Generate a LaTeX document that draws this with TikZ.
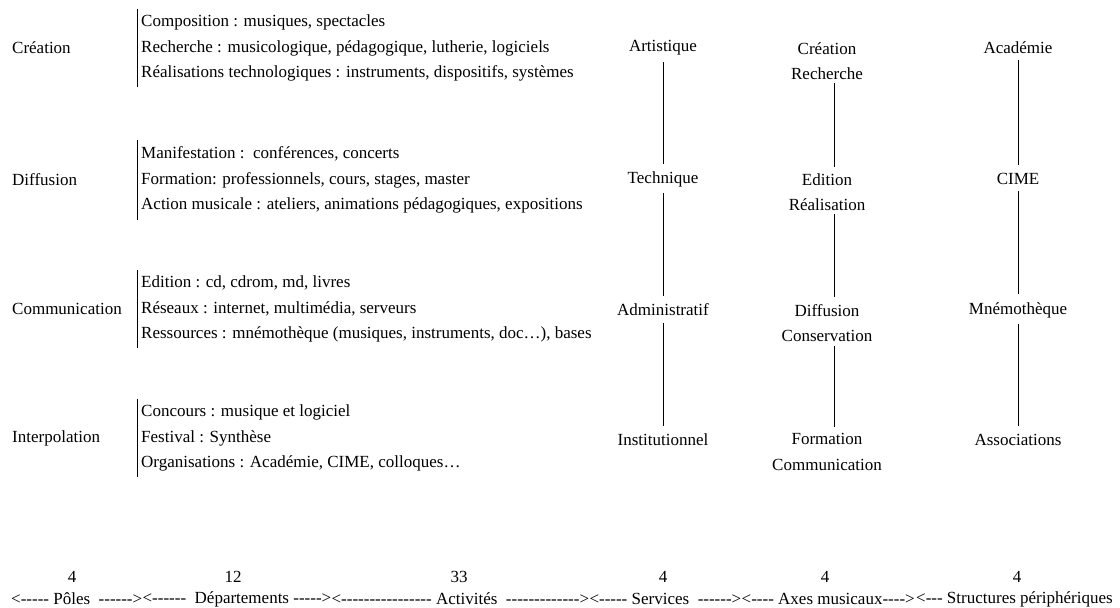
\documentclass[tikz,border=0pt]{standalone}
\usepackage{fontspec}
\setmainfont{Liberation Serif}
\usetikzlibrary{positioning}
% a row of plain hyphens (no en-dash ligature)
\newcommand\dashes[1]{\foreach \k in {1,...,#1}{-\kern0pt}}
\begin{document}
\begin{tikzpicture}[x=1pt,y=-1pt,font=\fontsize{17}{25.5}\selectfont]
        % Styles
        \tikzstyle{pole}=[anchor=west,inner sep=0pt]
        \tikzstyle{activity list}=[anchor=west,align=left,inner xsep=4pt,inner ysep=6pt]
        \tikzstyle{column item}=[align=center,inner sep=2pt]
        \tikzstyle{link}=[line width=0.9pt]
        \tikzstyle{count}=[inner sep=0pt]
        \useasboundingbox (0,0) rectangle (1120,608);
        %poles and their activities
        \node[pole] (cre) at (12,48) {Création};
        \node[activity list] (lcre) at (137,48) {Composition : musiques, spectacles\\Recherche : musicologique, pédagogique, lutherie, logiciels\\Réalisations technologiques : instruments, dispositifs, systèmes};
        \node[pole] (dif) at (12,180) {Diffusion};
        \node[activity list] (ldif) at (137,180) {Manifestation :\ \ conférences, concerts\\Formation: professionnels, cours, stages, master\\Action musicale : ateliers, animations pédagogiques, expositions};
        \node[pole] (com) at (12,309) {Communication};
        \node[activity list] (lcom) at (137,309) {Edition : cd, cdrom, md, livres\\Réseaux : internet, multimédia, serveurs\\Ressources : mnémothèque (musiques, instruments, doc\dots), bases};
        \node[pole] (int) at (12,438) {Interpolation};
        \node[activity list] (lint) at (137,438) {Concours : musique et logiciel\\Festival : Synthèse\\Organisations : Académie, CIME, colloques\dots};
        \foreach \l in {lcre,ldif,lcom,lint}
            \draw[link] (\l.north west) -- (\l.south west);
        %services
        \node[column item] (s1) at (663,48) {Artistique};
        \node[column item] (s2) at (663,179) {Technique};
        \node[column item] (s3) at (663,310) {Administratif};
        \node[column item] (s4) at (663,440) {Institutionnel};
        %axes musicaux
        \node[column item] (a1) at (827,61) {Création\\Recherche};
        \node[column item] (a2) at (827,192) {Edition\\Réalisation};
        \node[column item] (a3) at (827,323) {Diffusion\\Conservation};
        \node[column item] (a4) at (827,452) {Formation\\Communication};
        %structures
        \node[column item] (t1) at (1018,48) {Académie};
        \node[column item] (t2) at (1018,179) {CIME};
        \node[column item] (t3) at (1018,310) {Mnémothèque};
        \node[column item] (t4) at (1018,440) {Associations};
        \foreach \a/\b in {1/2,2/3,3/4}
        {
            \draw[link,shorten <=4.5pt,shorten >=5.5pt] (s\a) -- (s\b);
            \draw[link,shorten <=1.5pt,shorten >=4.5pt] ([xshift=7pt]a\a.south) -- ([xshift=7pt]a\b.north);
            \draw[link,shorten <=4pt,shorten >=6pt] (t\a) -- (t\b);
        }
        %counts
        \foreach \x/\n [count=\i] in {72/4,233/12,459/33,663/4,825/4,1017/4}
            \node[count] (n\i) at (\x,577) {\n};
        \node[pole] (b1) at (11,599) {<\dashes{5} Pôles \ \dashes{6}>};
        \node[pole,right=0pt of b1] (b2) {<\dashes{6} \ Départements \dashes{5}>};
        \node[pole,right=0pt of b2] (b3) {<\dashes{16} Activités \ \dashes{13}>};
        \node[pole,right=0pt of b3] (b4) {<\dashes{5} Services \ \dashes{6}>};
        \node[pole,right=0pt of b4] (b5) {<\dashes{4} Axes musicaux\dashes{4}>};
        \node[pole,right=1pt of b5] (b6) {<\dashes{3} Structures périphériques};
\end{tikzpicture}
\end{document}
